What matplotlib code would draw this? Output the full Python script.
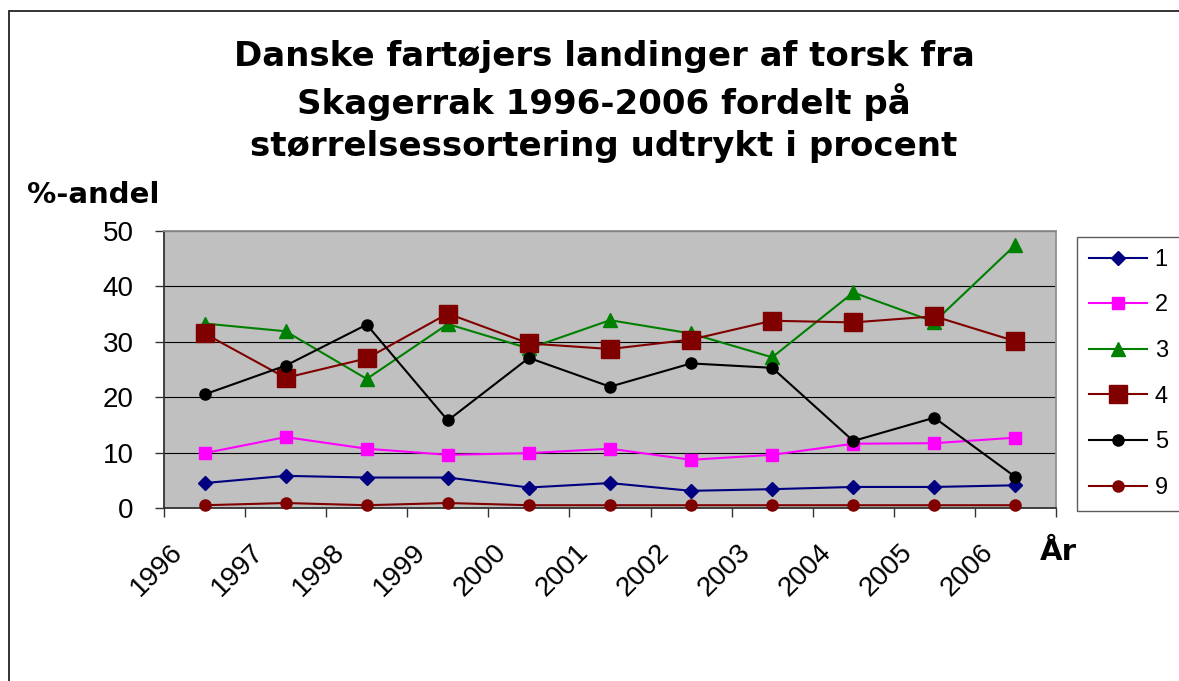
import matplotlib.pyplot as plt
import matplotlib.transforms as mtransforms
from matplotlib.patches import Rectangle
import numpy as np

plt.rcParams['font.family'] = ['Liberation Sans', 'DejaVu Sans']

years = ['1996', '1997', '1998', '1999', '2000', '2001',
         '2002', '2003', '2004', '2005', '2006']
s1 = [4.5, 5.8, 5.5, 5.5, 3.7, 4.5, 3.1, 3.4, 3.8, 3.8, 4.1]
s2 = [9.9, 12.8, 10.7, 9.6, 9.9, 10.7, 8.7, 9.6, 11.6, 11.7, 12.7]
s3 = [33.3, 31.9, 23.3, 33.2, 28.8, 33.9, 31.5, 27.2, 38.9, 33.6, 47.5]
s4 = [31.5, 23.5, 27.0, 35.1, 29.7, 28.7, 30.4, 33.8, 33.5, 34.6, 30.1]
s5 = [20.5, 25.7, 33.1, 15.8, 27.1, 21.9, 26.1, 25.3, 12.1, 16.3, 5.6]
s9 = [0.5, 0.9, 0.5, 0.9, 0.5, 0.5, 0.5, 0.5, 0.5, 0.5, 0.5]
series_names = ['1', '2', '3', '4', '5', '9']
yticks = [0, 10, 20, 30, 40, 50]

W, H = 1179, 681
fig = plt.figure(figsize=(W / 100, H / 100), dpi=100)

# outer border (right and bottom edges fall outside the image)
fig.patches.append(Rectangle((9 / W, -0.1), 1.2, 1.1 - 11 / H,
                             transform=fig.transFigure, fill=False,
                             edgecolor='#222222', linewidth=1.3))

ax = fig.add_axes([164 / W, (H - 508) / H, (1056 - 164) / W, (508 - 231) / H])
ax.set_facecolor('#C0C0C0')

x = np.arange(len(years))
styles = [
    (s1, '#000080', 'D', 7),
    (s2, '#FF00FF', 's', 8.5),
    (s3, '#008000', '^', 10),
    (s4, '#800000', 's', 13),
    (s5, '#000000', 'o', 8),
    (s9, '#800000', 'o', 8),
]
for (vals, col, mk, ms), name in zip(styles, series_names):
    ax.plot(x, vals, color=col, marker=mk, markersize=ms, linewidth=1.5,
            markeredgecolor=col, label=name, clip_on=False, zorder=3)

ax.set_xlim(-0.5, len(years) - 0.5)
ax.set_ylim(0, 50)
ax.set_yticks(yticks)
ax.yaxis.grid(True, color='black', linewidth=0.8)
ax.set_axisbelow(True)

ax.set_xticks(x)
ax.set_xticklabels(years)
ax.set_xticks(np.arange(-0.5, len(years)), minor=True)
ax.tick_params(axis='x', which='major', length=0, pad=0, labelsize=20)
ax.tick_params(axis='x', which='minor', length=6.5, width=1, direction='out', color='#333333')
ax.tick_params(axis='y', length=6.5, width=1, direction='out', pad=15.5,
               labelsize=20, color='#333333')

offset = mtransforms.ScaledTranslation(-0.26, -0.40, fig.dpi_scale_trans)
for lab in ax.get_xticklabels():
    lab.set_rotation(45)
    lab.set_rotation_mode('anchor')
    lab.set_ha('right')
    lab.set_va('center')
    lab.set_transform(lab.get_transform() + offset)

for side in ['left', 'bottom']:
    ax.spines[side].set_color('#333333')
    ax.spines[side].set_linewidth(1.3)
for side in ['top', 'right']:
    ax.spines[side].set_color('#909090')
    ax.spines[side].set_linewidth(1.3)

bold = dict(family='DejaVu Sans', fontweight='bold')
fig.text(604 / W, 1 - 156 / H,
         'Danske fartøjers landinger af torsk fra\nSkagerrak 1996-2006 fordelt på\nstørrelsessortering udtrykt i procent',
         ha='center', va='baseline', fontsize=24.5, linespacing=1.33,
         multialignment='center', **bold)
fig.text(27 / W, 1 - 203 / H, '%-andel', ha='left', va='baseline',
         fontsize=21, **bold)
fig.text(1040 / W, 1 - 560 / H, 'År', ha='left', va='baseline',
         fontsize=21, **bold)

leg = fig.legend(loc='upper left', bbox_to_anchor=(1077 / W, 1 - 237 / H),
                 frameon=True, fancybox=False, fontsize=17, handlelength=2.45,
                 labelspacing=1.0, handletextpad=0.34, borderpad=0.5,
                 borderaxespad=0)
leg.get_frame().set_edgecolor('#333333')
leg.get_frame().set_linewidth(1.0)

fig.savefig('out.png', dpi=100)
